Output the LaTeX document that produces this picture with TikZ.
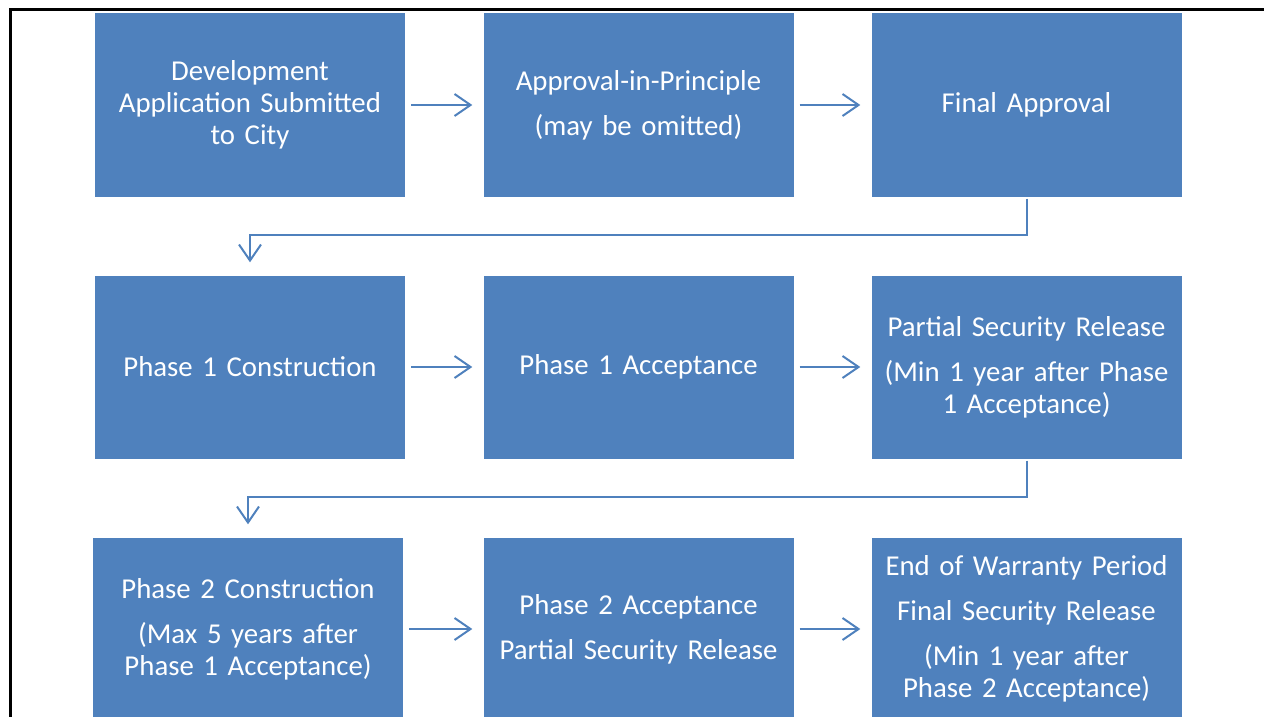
\documentclass[tikz,border=0pt]{standalone}
\usepackage{fontspec}
\setmainfont{Carlito}
\usetikzlibrary{arrows.meta}
\definecolor{boxblue}{HTML}{4F81BD}

\begin{document}
\begin{tikzpicture}[x=1pt, y=-1pt,
		stage/.style={fill=boxblue, text=white, minimum width=310pt, minimum height=183pt, inner sep=0pt, text width=304pt, align=center, font=\fontsize{28.8}{32}\selectfont},
		flow/.style={draw=boxblue, line width=2pt, -{Straight Barb[length=16pt, width=22pt]}}]
		
			\useasboundingbox (0,0) rectangle (1264,717);
			
			\draw[line width=3pt] (10.5,717) -- (10.5,9.5) -- (1264,9.5);
			
			\node[stage] (dev) at (250,105) {Development\\Application Submitted\\to City};
			\node[stage] (aip) at (638.5,105) {Approval-in-Principle\\[13pt](may be omitted)};
			\node[stage] (fin) at (1026.5,105) {Final Approval};
			
			\node[stage] (con1) at (250,367) {Phase 1 Construction};
			\node[stage] (acc1) at (638.5,367) {Phase 1 Acceptance};
			\node[stage] (psr) at (1026.5,367) {Partial Security Release\\[13pt](Min 1 year after Phase\\1 Acceptance)};
			
			\node[stage] (con2) at (248,629) {Phase 2 Construction\\[13pt](Max 5 years after\\Phase 1 Acceptance)};
			\node[stage] (acc2) at (638.5,629) {Phase 2 Acceptance\\[13pt]Partial Security Release};
			\node[stage] (end) at (1026.5,629) {End of Warranty Period\\[13pt]Final Security Release\\[13pt](Min 1 year after\\Phase 2 Acceptance)};
			
			\foreach \a/\b in {dev/aip, aip/fin, con1/acc1, acc1/psr, con2/acc2, acc2/end}
			{
				\draw[flow, shorten <=6pt, shorten >=11pt] (\a) -- (\b);
			}
			
			\draw[flow, shorten <=2pt, shorten >=13pt] (fin.south) -- ++(0,38) -| (con1.north);
			\draw[flow, shorten <=2pt, shorten >=13pt] (psr.south) -- ++(0,38) -| (con2.north);
			
		\end{tikzpicture}
\end{document}
